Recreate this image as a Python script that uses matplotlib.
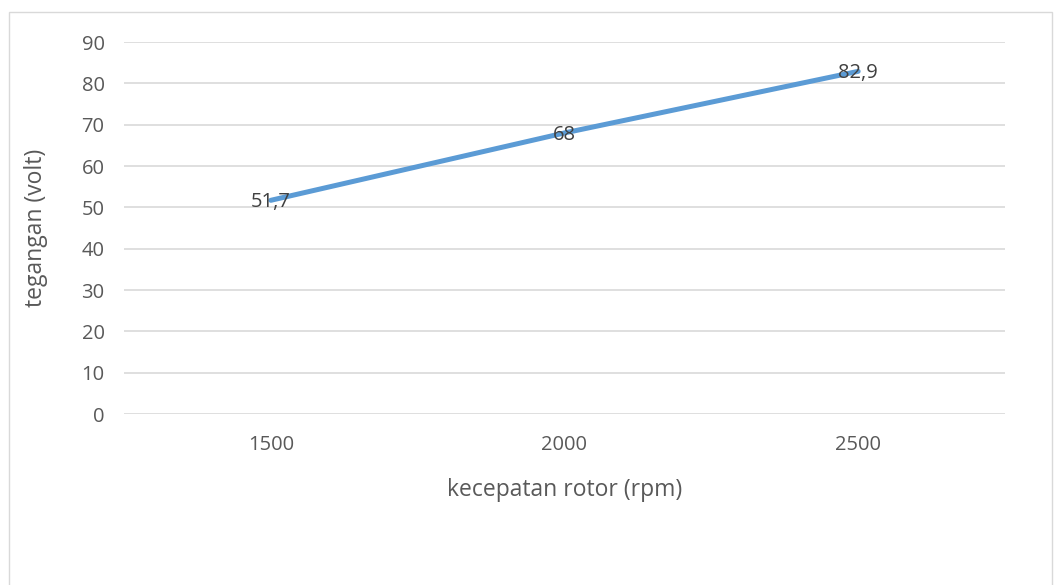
import numpy as np
import matplotlib.pyplot as plt
from matplotlib.patches import Rectangle

# data
rpm = ['1500', '2000', '2500']
volt = [51.7, 68, 82.9]
volt_labels = ['51,7', '68', '82,9']

plt.rcParams['font.family'] = ['Open Sans', 'DejaVu Sans']
txt = '#595959'

fig = plt.figure(figsize=(10.56, 5.85), dpi=100)
ax = fig.add_axes([0.1174, 0.2923, 0.8343, 0.6359])

x = np.arange(len(rpm))
ax.plot(x, volt, color='#5b9bd5', lw=3.6, solid_capstyle='round', zorder=3)
for xi, v, lab in zip(x, volt, volt_labels):
    ax.text(xi, v - 0.5, lab, ha='center', va='center', fontsize=14.5, color='#404040', zorder=4)

ax.set_xlim(-0.5, 2.5)
ax.set_ylim(0, 90)
ax.set_yticks(np.arange(0, 91, 10))
ax.set_xticks(x)
ax.set_xticklabels(rpm)
ax.grid(axis='y', color='#d9d9d9', lw=1.2)
ax.set_axisbelow(True)
for s in ax.spines.values():
    s.set_visible(False)
ax.tick_params(length=0, labelsize=14.5, labelcolor=txt)
ax.tick_params(axis='y', pad=14)
ax.tick_params(axis='x', pad=15)
ax.set_xlabel('kecepatan rotor (rpm)', fontsize=16.5, color=txt, labelpad=17)
ax.set_ylabel('tegangan (volt)', fontsize=16.5, color=txt, labelpad=24)

# chart border (Excel chart area)
fig.patches.append(Rectangle((9/1056, -0.1), 1043/1056, 1 - 12/585 + 0.1,
                             transform=fig.transFigure, fill=False,
                             edgecolor='#d9d9d9', lw=1))

fig.savefig('out.png', dpi=100)
